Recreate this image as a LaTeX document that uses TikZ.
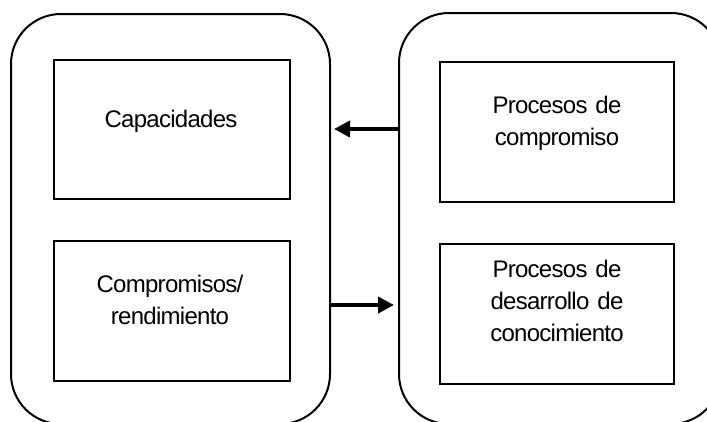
\documentclass[tikz,border=0pt]{standalone}
\usepackage{fontspec}
\setmainfont{Liberation Sans}[LetterSpace=-3]
\usetikzlibrary{arrows.meta}
\tikzset{
  panel/.style={draw, line width=2pt, rounded corners=50pt, inner sep=0pt},
  box/.style={draw, line width=2pt, inner sep=0pt},
  lbl/.style={anchor=base, inner sep=0pt, align=center, text width=230pt,
    font=\fontsize{24pt}{32pt}\selectfont},
  flow/.style={line width=4pt, -{Triangle[length=16pt,width=16pt]}}
}
\begin{document}
\begin{tikzpicture}[x=1pt,y=-1pt]
  \useasboundingbox (0,0) rectangle (707,421);
  \clip (0,0) rectangle (707,421);
  % the two outer panels, running past the lower edge
  \node[panel, minimum width=319pt, minimum height=410pt, anchor=north west] (leftpanel) at (10,13) {};
  \node[panel, minimum width=322pt, minimum height=411pt, anchor=north west] (rightpanel) at (398,12) {};
  % inner boxes
  \node[box, minimum width=236pt, minimum height=139pt, anchor=north west] (cap) at (53,59) {};
  \node[box, minimum width=236pt, minimum height=140pt, anchor=north west] (comp) at (53,240) {};
  \node[box, minimum width=234pt, minimum height=140pt, anchor=north west] (proc) at (439,61) {};
  \node[box, minimum width=234pt, minimum height=140pt, anchor=north west] (desa) at (439,243) {};
  % labels
  \node[lbl] (capt) at (171,127) {Capacidades};
  \node[lbl] (compt) at (170,292) {Compromisos/\\rendimiento};
  \node[lbl] (proct) at (557,113) {Procesos de\\compromiso};
  \node[lbl] (desat) at (557,277) {Procesos de\\desarrollo de\\conocimiento};
  % connectors between the panels
  \coordinate (yhigh) at (0,129);
  \coordinate (ylow) at (0,305);
  \draw[flow, shorten >=3pt] (rightpanel.west |- yhigh) -- (leftpanel.east |- yhigh);
  \draw[flow, shorten >=4pt] (leftpanel.east |- ylow) -- (rightpanel.west |- ylow);
\end{tikzpicture}
\end{document}
